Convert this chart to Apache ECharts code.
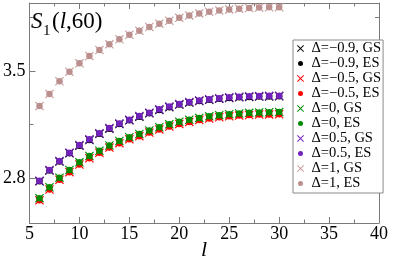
<!DOCTYPE html>
<html><head><meta charset="utf-8">
<script src="https://cdn.jsdelivr.net/npm/echarts@6/dist/echarts.min.js"></script>
<style>html,body{margin:0;padding:0;background:#fff}#c{width:394px;height:263px}</style>
</head><body><div id="c"></div>
<script>
// ---- data ----
const lValues = [6,7,8,9,10,11,12,13,14,15,16,17,18,19,20,21,22,23,24,25,26,27,28,29,30];
const dM09 = [2.780,2.850,2.909,2.963,3.013,3.050,3.090,3.124,3.154,3.178,3.202,3.224,3.246,3.264,3.281,3.294,3.304,3.312,3.319,3.324,3.328,3.331,3.333,3.334,3.335];
const dM05 = [2.656,2.727,2.790,2.840,2.890,2.931,2.966,3.000,3.029,3.054,3.075,3.098,3.119,3.138,3.155,3.168,3.180,3.190,3.198,3.204,3.209,3.213,3.216,3.217,3.218];
const d0   = [2.670,2.741,2.804,2.854,2.904,2.945,2.980,3.014,3.043,3.068,3.089,3.112,3.133,3.152,3.169,3.182,3.194,3.204,3.212,3.218,3.223,3.227,3.230,3.231,3.232];
const d05  = [2.784,2.854,2.913,2.967,3.017,3.054,3.094,3.128,3.158,3.182,3.206,3.228,3.250,3.268,3.285,3.298,3.308,3.316,3.323,3.328,3.332,3.335,3.337,3.338,3.339];
const d1   = [3.272,3.350,3.433,3.495,3.550,3.598,3.637,3.674,3.707,3.737,3.763,3.787,3.809,3.828,3.847,3.863,3.876,3.887,3.895,3.902,3.907,3.911,3.914,3.916,3.917];
const seriesNames = ['Δ=−0.9, GS','Δ=−0.9, ES','Δ=−0.5, GS','Δ=−0.5, ES','Δ=0, GS','Δ=0, ES','Δ=0.5, GS','Δ=0.5, ES','Δ=1, GS','Δ=1, ES'];
const seriesValues = [dM09, dM09, dM05, dM05, d0, d0, d05, d05, d1, d1];
const seriesColors = ['#000000','#000000','#ff0000','#ff0000','#008b00','#008b00','#7221bc','#7221bc','#c99a9a','#bc8f8f'];
const xTicks = [5,10,15,20,25,30,35,40];
const yLabelTicks = [2.8, 3.5];
const yMinorTicks = [3.15, 3.85];

// ---- chart ----
const SERIF = 'Liberation Serif';
const crossPath = 'path://M0,0.9L0.9,0L5,4.1L9.1,0L10,0.9L5.9,5L10,9.1L9.1,10L5,5.9L0.9,10L0,9.1L4.1,5Z';
const dotLegend = 'path://M0,0L0,0M7,7L7,7M3.5,1A2.5,2.5,0,1,1,3.5,6A2.5,2.5,0,1,1,3.5,1Z';
const axisColor = '#7a7a7a';
const chart = echarts.init(document.getElementById('c'), null, {renderer:'canvas'});

const series = seriesNames.map((name, i) => {
  const isGS = i % 2 === 0;
  return {
    name, type: 'scatter',
    xAxisIndex: 0, yAxisIndex: 0,
    symbol: isGS ? crossPath : 'circle',
    symbolSize: isGS ? 9 : 6.5,
    itemStyle: {color: seriesColors[i], opacity: 1},
    data: lValues.map((l, k) => [l, seriesValues[i][k]]),
    animation: false
  };
});

const baseX = {
  type: 'value', min: 5, max: 40, interval: 5,
  axisLine: {show: true, onZero: false, lineStyle: {color: axisColor, width: 1}},
  axisTick: {show: true, inside: true, length: 6, lineStyle: {color: axisColor}},
  minorTick: {show: true, splitNumber: 2, length: 3.5, lineStyle: {color: axisColor}},
  splitLine: {show: false}, minorSplitLine: {show: false}
};
const baseY = {
  type: 'value', min: 2.508, max: 3.944,
  axisLine: {show: true, onZero: false, lineStyle: {color: axisColor, width: 1}},
  splitLine: {show: false}
};

const option = {
  backgroundColor: '#fff',
  animation: false,
  grid: {left: 29, top: 3, width: 350, height: 220, containLabel: false},
  xAxis: [
    Object.assign({}, baseX, {position: 'bottom',
      axisLabel: {show: true, fontFamily: SERIF, fontSize: 18, color: '#000', margin: 2,
        customValues: xTicks}}),
    Object.assign({}, baseX, {position: 'top', axisLabel: {show: false}})
  ],
  yAxis: [
    Object.assign({}, baseY, {position: 'left',
      axisTick: {show: true, inside: true, length: 6, customValues: yLabelTicks, lineStyle: {color: axisColor}},
      axisLabel: {show: true, customValues: yLabelTicks, fontFamily: SERIF, fontSize: 18, color: '#000', margin: 4,
        formatter: v => v.toFixed(1)}}),
    Object.assign({}, baseY, {position: 'right',
      axisTick: {show: true, inside: true, length: 6, customValues: yLabelTicks, lineStyle: {color: axisColor}},
      axisLabel: {show: false}}),
    Object.assign({}, baseY, {position: 'left', axisLine: {show: false},
      axisTick: {show: true, inside: true, length: 4, customValues: yMinorTicks, lineStyle: {color: axisColor}},
      axisLabel: {show: false}}),
    Object.assign({}, baseY, {position: 'right', axisLine: {show: false},
      axisTick: {show: true, inside: true, length: 4, customValues: yMinorTicks, lineStyle: {color: axisColor}},
      axisLabel: {show: false}})
  ],
  legend: {
    orient: 'vertical', left: 293, top: 40,
    backgroundColor: '#fff', borderColor: '#8a8a8a', borderWidth: 1, borderRadius: 0,
    padding: [1, 2, 2, 4], itemGap: 0, itemWidth: 12, itemHeight: 7,
    symbolKeepAspect: true,
    textStyle: {fontFamily: SERIF, fontSize: 14.5, color: '#000', lineHeight: 15},
    data: seriesNames.map((n, i) => ({name: n, icon: i % 2 === 0 ? crossPath : dotLegend}))
  },
  graphic: [
    {type: 'text', left: 31, top: 10, z: 100,
      style: {text: 'S', font: 'italic 23px "Liberation Serif"', fill: '#000'}},
    {type: 'text', left: 43, top: 24, z: 100,
      style: {text: '1', font: '15px "Liberation Serif"', fill: '#000'}},
    {type: 'text', left: 52, top: 10, z: 100,
      style: {text: '{n|(}{i|l}{n|,60)}', fill: '#000',
        rich: {n: {fontFamily: SERIF, fontSize: 23, fill: '#000'},
               i: {fontFamily: SERIF, fontSize: 23, fontStyle: 'italic', fill: '#000'}}}},
    {type: 'text', left: 201, top: 239, z: 100,
      style: {text: 'l', font: 'italic 22px "Liberation Serif"', fill: '#000'}}
  ],
  series
};
chart.setOption(option);
</script>
</body></html>
